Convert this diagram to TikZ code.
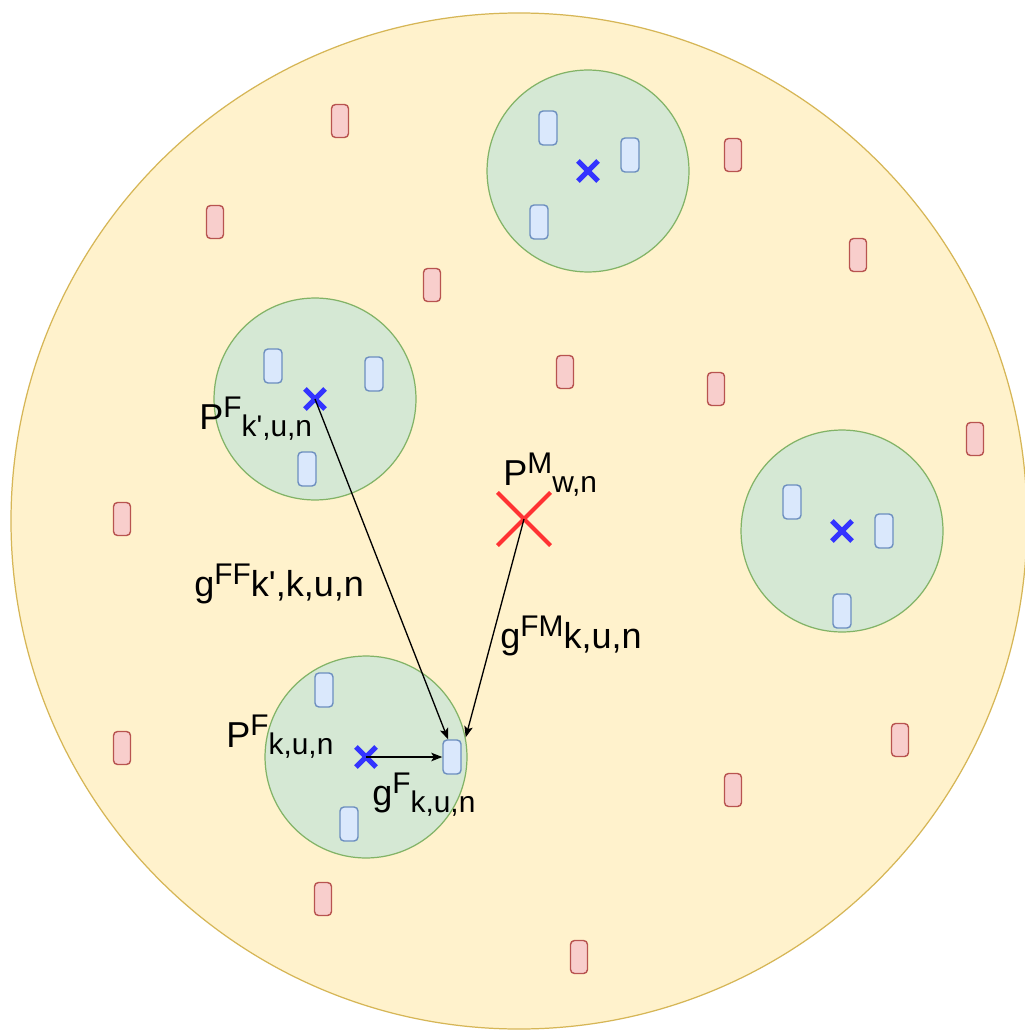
\documentclass[tikz,border=0pt]{standalone}
\usepackage{fontspec}
\newfontfamily\lblfont{Liberation Sans}
\usetikzlibrary{arrows.meta, shapes.misc}
\definecolor{cellyellow}{HTML}{FFF2CC}
\definecolor{lineyellow}{HTML}{D6B656}
\definecolor{cellgreen}{HTML}{D5E8D4}
\definecolor{linegreen}{HTML}{82B366}
\definecolor{cellblue}{HTML}{DAE8FC}
\definecolor{lineblue}{HTML}{6C8EBF}
\definecolor{cellred}{HTML}{F8CECC}
\definecolor{linered}{HTML}{B85450}
\definecolor{markblue}{HTML}{3333FF}
\definecolor{markred}{HTML}{FF3333}
\newcommand{\hsup}[1]{\raisebox{6.8pt}{\fontsize{17}{20}\selectfont #1}}
\newcommand{\hsub}[1]{\raisebox{-4.5pt}{\fontsize{17}{20}\selectfont #1}}

\begin{document}
\begin{tikzpicture}[
    x=0.02cm, y=-0.02cm,
    cell/.style={circle, draw=linegreen, fill=cellgreen, line width=0.7pt, minimum size=4.04cm, inner sep=0},
    user/.style={rectangle, rounded corners=0.08cm, draw=lineblue, fill=cellblue, line width=0.8pt, minimum width=0.36cm, minimum height=0.68cm, inner sep=0},
    dev/.style={rectangle, rounded corners=0.08cm, draw=linered, fill=cellred, line width=0.8pt, minimum width=0.34cm, minimum height=0.66cm, inner sep=0},
    fbs/.style={cross out, draw=markblue, line width=2.9pt, minimum size=0.3cm, inner sep=0},
    mbs/.style={cross out, draw=markred, line width=2.3pt, minimum size=0.98cm, inner sep=0},
    lbl/.style={anchor=base west, inner sep=0, font=\lblfont\fontsize{20.5}{24}\selectfont},
    link/.style={-{Stealth[length=0.22cm, width=0.17cm, inset=0.05cm]}, line width=0.75pt}
]
\useasboundingbox (0,0) rectangle (1024,1030);
\fill[white] (0,0) rectangle (1024,1030);
\draw[draw=lineyellow, fill=cellyellow, line width=0.7pt] (519,521) circle (508);

\foreach \pos [count=\i] in {(340,121),(215,222),(432,285),(733,155),(858,255),(565,372),(716,389),
    (975,439),(122,519),(122,748),(900,740),(733,790),(323,899),(579,957)}
    \node[dev] (d\i) at \pos {};

\node[cell] (cT) at (588,171) {};
\node[cell] (cL) at (315,399) {};
\node[cell] (cR) at (842,531) {};
\node[cell] (cB) at (366,757) {};

\node[user] (uT1) at (548,128) {};
\node[user] (uT2) at (630,155) {};
\node[user] (uT3) at (539,222) {};
\node[user] (uL1) at (273,366) {};
\node[user] (uL2) at (374,374) {};
\node[user] (uL3) at (307,469) {};
\node[user] (uR1) at (792,502) {};
\node[user] (uR2) at (884,531) {};
\node[user] (uR3) at (842,611) {};
\node[user] (uB1) at (324,690) {};
\node[user] (uB2) at (452,757) {};
\node[user] (uB3) at (349,824) {};

\node[fbs] (xT) at (588,171) {};
\node[fbs] (xL) at (315,399) {};
\node[fbs] (xR) at (842,531) {};
\node[fbs] (xB) at (366,757) {};
\node[mbs] (xM) at (524,519) {};

\node[lbl] (pL) at (199,429) {P\hsup{F}\hsub{k',u,n}};
\node[lbl] (pM) at (503,485) {P\hsup{M}\hsub{w,n}};
\node[lbl] (gFF) at (194,596) {g\hsup{FF}k',k,u,n};
\node[lbl] (gFM) at (500,648) {g\hsup{FM}k,u,n};
\node[lbl] (pB) at (226,747) {P\hsup{F}\hsub{k,u,n}};
\node[lbl] (gF) at (372,805) {g\hsup{F}\hsub{k,u,n}};

\draw[link] (xL.center) -- ([xshift=-0.08cm]uB2.north);
\draw[link] (xM.center) -- ([xshift=0.08cm, yshift=0.04cm]uB2.north east);
\draw[link] (xB.center) -- (uB2.west);
\end{tikzpicture}
\end{document}
